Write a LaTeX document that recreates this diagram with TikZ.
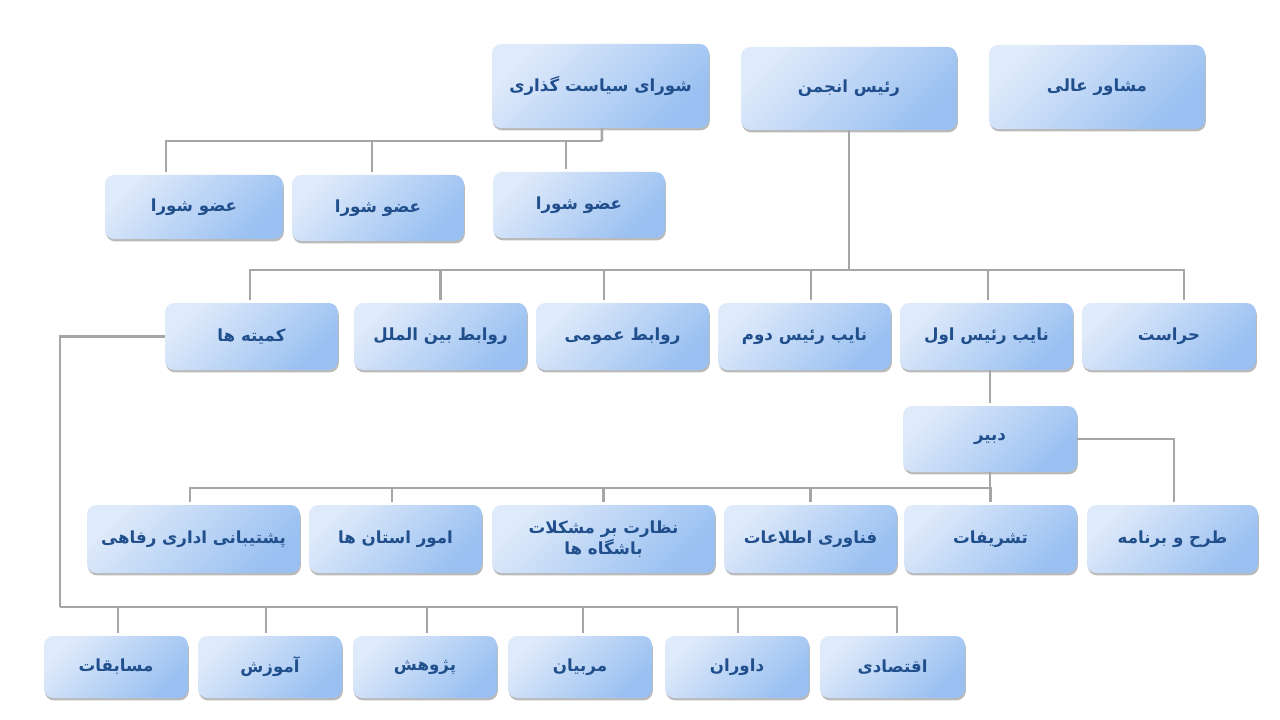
\documentclass[tikz,border=0pt]{standalone}
\usepackage{fontspec}
\TeXXeTstate=1
\newfontfamily\arabicfont[Script=Arabic, BoldFont={DejaVu Sans Bold}]{DejaVu Sans}
\usetikzlibrary{shadows}
\definecolor{boxlight}{HTML}{DFEAFA}
\definecolor{boxdark}{HTML}{99C0F1}
\definecolor{txtblue}{HTML}{214F8C}
\definecolor{linegray}{HTML}{A6A6A6}
\begin{document}
\begin{tikzpicture}[x=0.75pt,y=-0.75pt,
  box/.style={rounded corners=7pt, top color=boxlight, bottom color=boxdark, shading angle=45,
    drop shadow={shadow xshift=0.6pt,shadow yshift=-1.8pt,opacity=0.45,fill=black!60},
    text=txtblue, font=\arabicfont\bfseries\fontsize{12.5}{16}\selectfont, inner sep=0pt, align=center},
  sz/.style 2 args={minimum width=#1*0.75pt, minimum height=#2*0.75pt},
  conn/.style={draw=linegray, line width=1.9pt},
  drop/.style={conn, shorten >=2pt}]
\fill[white] (0,0) rectangle (1280,720);
\useasboundingbox (0,0) rectangle (1280,720);

% row 0
\node[box, sz={217}{84}] (shura) at (600.5,86) {\beginR شورای سیاست گذاری\endR};
\node[box, sz={216}{83}] (rais) at (849,88.5) {\beginR رئیس انجمن\endR};
\node[box, sz={216}{84}] (moshaver) at (1097,87) {\beginR مشاور عالی\endR};

% row 1
\node[box, sz={178}{64}] (m1) at (194,207) {\beginR عضو شورا\endR};
\node[box, sz={172}{66}] (m2) at (378,208) {\beginR عضو شورا\endR};
\node[box, sz={172}{66}] (m3) at (579,205) {\beginR عضو شورا\endR};

% row 2
\node[box, sz={173}{67}] (k) at (251.5,336.5) {\beginR کمیته ها\endR};
\node[box, sz={173}{67}] (rb) at (440.5,336.5) {\beginR روابط بین الملل\endR};
\node[box, sz={173}{67}] (ro) at (622.5,336.5) {\beginR روابط عمومی\endR};
\node[box, sz={173}{67}] (n2) at (804.5,336.5) {\beginR نایب رئیس دوم\endR};
\node[box, sz={173}{67}] (n1) at (986.5,336.5) {\beginR نایب رئیس اول\endR};
\node[box, sz={174}{67}] (h) at (1169,336.5) {\beginR حراست\endR};

% row 3
\node[box, sz={174}{66}] (dabir) at (990,439) {\beginR دبیر\endR};

% row 4
\node[box, sz={213}{68}] (p1) at (193.5,539) {\beginR پشتیبانی اداری رفاهی\endR};
\node[box, sz={173}{68}] (p2) at (395.5,539) {\beginR امور استان ها\endR};
\node[box, sz={223}{68}] (p3) at (603.5,539) {\beginR نظارت بر مشکلات\endR\\\beginR باشگاه ها\endR};
\node[box, sz={173}{68}] (p4) at (810.5,539) {\beginR فناوری اطلاعات\endR};
\node[box, sz={173}{68}] (p5) at (990.5,539) {\beginR تشریفات\endR};
\node[box, sz={171}{68}] (p6) at (1172.5,539) {\beginR طرح و برنامه\endR};

% row 5
\node[box, sz={144}{62}] (q1) at (116,667) {\beginR مسابقات\endR};
\node[box, sz={144}{62}] (q2) at (270,667) {\beginR آموزش\endR};
\node[box, sz={144}{62}] (q3) at (425,667) {\beginR پژوهش\endR};
\node[box, sz={144}{62}] (q4) at (580,667) {\beginR مربیان\endR};
\node[box, sz={144}{62}] (q5) at (737,667) {\beginR داوران\endR};
\node[box, sz={145}{62}] (q6) at (892.5,667) {\beginR اقتصادی\endR};

% bus points
\coordinate (b1) at (602,141);
\coordinate (b2) at (849,270);
\coordinate (b3) at (990,488);
\coordinate (b4) at (60,607);

% connectors
\draw[conn] ([xshift=1pt]shura.south) -- (b1);
\draw[drop] (b1) -| ([xshift=-21pt]m1.north);
\draw[drop] (b1) -| ([xshift=-4.5pt]m2.north);
\draw[drop] (b1) -| ([xshift=-9.75pt]m3.north);

\draw[conn] (rais.south) -- (b2);
\draw[drop] (b2) -| ([xshift=-1pt]k.north);
\draw[drop] (b2) -| (rb.north);
\draw[drop] (b2) -| ([xshift=-13.9pt]ro.north);
\draw[drop] (b2) -| ([xshift=4.9pt]n2.north);
\draw[drop] (b2) -| ([xshift=1.1pt]n1.north);
\draw[drop] (b2) -| ([xshift=11.25pt]h.north);

\draw[drop] (dabir.north |- n1.south) -- (dabir.north);
\draw[drop] (dabir.east) -| ([xshift=1pt]p6.north);

\draw[conn] (dabir.south) -- (b3);
\draw[drop] (b3) -| ([xshift=-2.6pt]p1.north);
\draw[drop] (b3) -| ([xshift=-2.6pt]p2.north);
\draw[drop] (b3) -| (p3.north);
\draw[drop] (b3) -| (p4.north);
\draw[drop] (b3) -| (p5.north);

\draw[conn] (k.west) -| (b4);
\draw[drop] (b4) -| ([xshift=1.5pt]q1.north);
\draw[drop] (b4) -| ([xshift=-3pt]q2.north);
\draw[drop] (b4) -| ([xshift=1.5pt]q3.north);
\draw[drop] (b4) -| ([xshift=2.25pt]q4.north);
\draw[drop] (b4) -| ([xshift=0.75pt]q5.north);
\draw[drop] (b4) -| ([xshift=3.4pt]q6.north);
\end{tikzpicture}
\end{document}
